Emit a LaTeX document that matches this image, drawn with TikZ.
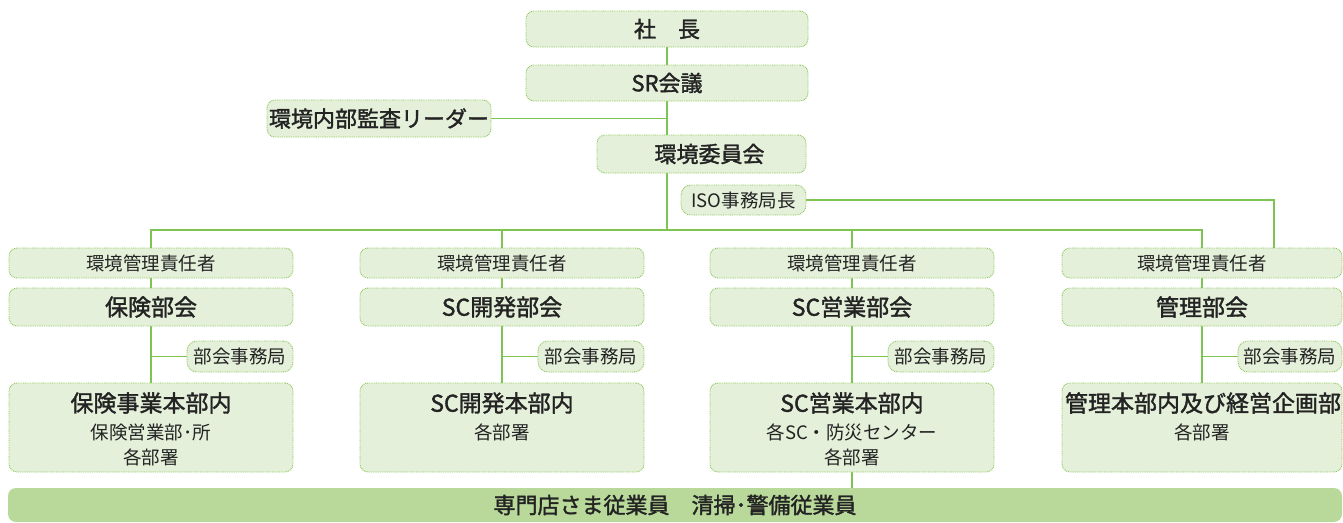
\documentclass[tikz,border=0pt]{standalone}
\usepackage{fontspec}
\usetikzlibrary{backgrounds}
\setmainfont{Noto Sans CJK JP}
\newfontfamily\medfont{Noto Sans CJK JP}[FakeBold=1.6]
\definecolor{boxfill}{RGB}{229,240,218}
\definecolor{boxedge}{RGB}{140,200,90}
\definecolor{lineg}{RGB}{125,196,82}
\definecolor{bandfill}{RGB}{184,217,154}
\definecolor{txt}{RGB}{35,35,35}
\newcommand\ftitle{\fontsize{22}{25}\selectfont\medfont}
\newcommand\fdiv{\fontsize{23}{26}\selectfont\medfont}
\newcommand\fsmall{\fontsize{18.5}{21}\selectfont}
\begin{document}
\begin{tikzpicture}[x=1pt,y=-1pt,
  box/.style={draw=boxedge, fill=boxfill, line width=0.9pt, dash pattern=on 0.9pt off 0.9pt,
              rounded corners=8pt, inner sep=0pt, text=txt},
  link/.style={draw=lineg, line width=1.3pt},
  lbl/.style={text=txt, inner sep=0pt}]
\useasboundingbox (0,0) rectangle (1343,522);

\coordinate (hub) at (667,230);
\coordinate (isoend) at (1274,248);

% top boxes
\node[box, minimum width=282pt, minimum height=36pt, font=\ftitle] (pres) at (667,29) {社　長};
\node[box, minimum width=282pt, minimum height=36pt, font=\ftitle] (sr) at (667,83) {SR会議};
\node[box, minimum width=224pt, minimum height=37pt, font=\ftitle] (audit) at (379,118.5) {環境内部監査リーダー};
\node[box, minimum width=209pt, minimum height=38pt, font=\ftitle] (env) at (701.5,154) {\hspace*{16pt}環境委員会};
\node[box, minimum width=125pt, minimum height=30pt, rounded corners=10pt, font=\fsmall] (iso) at (743.5,200) {ISO事務局長};

% columns: managers
\node[box, minimum width=284pt, minimum height=30pt, font=\fsmall] (m1) at (151,263) {環境管理責任者};
\node[box, minimum width=284pt, minimum height=30pt, font=\fsmall] (m2) at (502,263) {環境管理責任者};
\node[box, minimum width=284pt, minimum height=30pt, font=\fsmall] (m3) at (852,263) {環境管理責任者};
\node[box, minimum width=280pt, minimum height=30pt, font=\fsmall] (m4) at (1202,263) {環境管理責任者};

% divisions
\node[box, minimum width=284pt, minimum height=38pt, font=\fdiv] (k1) at (151,307) {保険部会};
\node[box, minimum width=284pt, minimum height=38pt, font=\fdiv] (k2) at (502,307) {SC開発部会};
\node[box, minimum width=284pt, minimum height=38pt, font=\fdiv] (k3) at (852,307) {SC営業部会};
\node[box, minimum width=280pt, minimum height=38pt, font=\fdiv] (k4) at (1202,307) {管理部会};

% secretariats
\node[box, minimum width=106pt, minimum height=31pt, rounded corners=10pt, font=\fsmall] (j1) at (240,356.5) {部会事務局};
\node[box, minimum width=106pt, minimum height=31pt, rounded corners=10pt, font=\fsmall] (j2) at (591,356.5) {部会事務局};
\node[box, minimum width=106pt, minimum height=31pt, rounded corners=10pt, font=\fsmall] (j3) at (941,356.5) {部会事務局};
\node[box, minimum width=104pt, minimum height=31pt, rounded corners=10pt, font=\fsmall] (j4) at (1290,356.5) {部会事務局};

% bottom boxes
\node[box, minimum width=284pt, minimum height=89pt] (b1) at (151,427.5) {};
\node[box, minimum width=284pt, minimum height=89pt] (b2) at (502,427.5) {};
\node[box, minimum width=284pt, minimum height=89pt] (b3) at (852,427.5) {};
\node[box, minimum width=280pt, minimum height=89pt] (b4) at (1202,427.5) {};

\node[lbl, font=\fdiv] (b1a) at (151,403) {保険事業本部内};
\node[lbl, font=\fsmall] (b1b) at (151,432) {保険営業部･所};
\node[lbl, font=\fsmall] (b1c) at (151,457) {各部署};
\node[lbl, font=\fdiv] (b2a) at (502,403) {SC開発本部内};
\node[lbl, font=\fsmall] (b2b) at (502,432) {各部署};
\node[lbl, font=\fdiv] (b3a) at (852,403) {SC営業本部内};
\node[lbl, font=\fsmall] (b3b) at (852,432) {各SC・防災センター};
\node[lbl, font=\fsmall] (b3c) at (852,457) {各部署};
\node[lbl, font=\fdiv] (b4a) at (1203,403) {管理本部内及び経営企画部};
\node[lbl, font=\fsmall] (b4b) at (1202,432) {各部署};

% band
\node[fill=bandfill, rounded corners=8pt, inner sep=0pt, minimum width=1334pt, minimum height=34pt,
      text=txt, font=\ftitle] (band) at (675,505) {専門店さま従業員　清掃･警備従業員};

% connectors
\begin{scope}[on background layer]
\draw[link] (pres) -- (sr);
\draw[link] (sr.south) -- (sr.south |- env.north);
\draw[link] (audit.east) -- (audit.east -| sr.south);
\draw[link] (sr.south |- env.south) -- (hub);
\draw[link] (m1.north) -- (m1.north |- hub) -- (m4.north |- hub) -- (m4.north);
\draw[link] (m2.north) -- (m2.north |- hub);
\draw[link] (m3.north) -- (m3.north |- hub);
\draw[link] (iso.east) -| (isoend);
\draw[link] (m1) -- (k1);
\draw[link] (m2) -- (k2);
\draw[link] (m3) -- (k3);
\draw[link] (m4) -- (k4);
\draw[link] (k1.south) -- (b1.north);
\draw[link] (k2.south) -- (b2.north);
\draw[link] (k3.south) -- (b3.north);
\draw[link] (k4.south) -- (b4.north);
\draw[link] (j1.west) -- (j1.west -| k1.south);
\draw[link] (j2.west) -- (j2.west -| k2.south);
\draw[link] (j3.west) -- (j3.west -| k3.south);
\draw[link] (j4.west) -- (j4.west -| k4.south);
\draw[link] (b3.south) -- (band.north -| b3.south);
\end{scope}
\end{tikzpicture}
\end{document}
